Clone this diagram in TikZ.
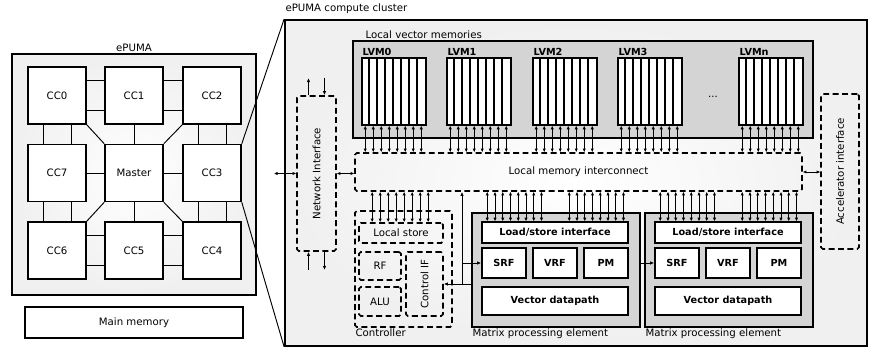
\documentclass[tikz,border=0pt]{standalone}
\usepackage{fontspec}
\setmainfont{DejaVu Sans}
\usepackage{tikz}
\usetikzlibrary{positioning, arrows.meta}

\newcommand{\lblfont}{\fontsize{8.7}{10}\selectfont}
\newcommand{\boldlbl}{\fontsize{8.3}{10}\selectfont\bfseries}

\tikzset{
  panel/.style 2 args={draw, line width=1.5pt, inner color=white, outer color=black!6,
    inner sep=0pt, minimum width=#1*0.03cm, minimum height=#2*0.03cm},
  box/.style 2 args={draw, line width=1.3pt, fill=white, inner sep=0pt,
    minimum width=#1*0.03cm, minimum height=#2*0.03cm},
  graybox/.style 2 args={draw, line width=1.3pt, fill=black!17, inner sep=0pt,
    minimum width=#1*0.03cm, minimum height=#2*0.03cm},
  dbox/.style 2 args={draw, line width=1.4pt, dash pattern=on 5pt off 3pt, rounded corners=1.5pt,
    inner sep=0pt, minimum width=#1*0.03cm, minimum height=#2*0.03cm},
  unit/.style 2 args={box={#1}{#2}, font=\boldlbl},
  lnk/.style={line width=0.8pt},
  bus/.style={line width=0.8pt, {Latex[length=3pt,width=2.8pt]}-{Latex[length=3pt,width=2.8pt]}},
  arr/.style={line width=0.8pt, -{Latex[length=3.5pt,width=3pt]}},
  lbl/.style={inner sep=1pt}
}

\begin{document}
\begin{tikzpicture}[x=0.03cm, y=-0.03cm, every node/.style={font=\lblfont}]
\useasboundingbox (0,0) rectangle (872,349);

% ePUMA chip
\node[panel={244}{241}] (chip) at (134,174.5) {};
\node[lbl, anchor=south] (chiplbl) at (chip.north) {ePUMA};

\foreach \n/\t/\x/\y in {cc0/CC0/57/95.5, cc1/CC1/134/95.5, cc2/CC2/212/95.5,
                         cc7/CC7/57/173, master/Master/134/173, cc3/CC3/212/173,
                         cc6/CC6/57/250.5, cc5/CC5/134/250.5, cc4/CC4/212/250.5}
  \node[box={58}{57}] (\n) at (\x,\y) {\t};

% ring links
\foreach \a/\b in {cc0/cc1, cc1/cc2, cc6/cc5, cc5/cc4} {
  \draw[lnk] ([yshift=4.5mm]\a.east) -- ([yshift=4.5mm]\b.west);
  \draw[lnk] ([yshift=-4.5mm]\a.east) -- ([yshift=-4.5mm]\b.west);
}
\foreach \a/\b in {cc0/cc7, cc7/cc6, cc2/cc3, cc3/cc4} {
  \draw[lnk] ([xshift=-4.2mm]\a.south) -- ([xshift=-4.2mm]\b.north);
  \draw[lnk] ([xshift=4.2mm]\a.south) -- ([xshift=4.2mm]\b.north);
}
% master links
\foreach \b in {cc1, cc7, cc3, cc5}
  \draw[lnk] (master) -- (\b);
\draw[lnk] (master.north west) -- (cc0.south east);
\draw[lnk] (master.north east) -- (cc2.south west);
\draw[lnk] (master.south east) -- (cc4.north west);
\draw[lnk] (master.south west) -- (cc6.north east);

\node[box={218}{31}] (mainmem) at (134,322.5) {Main memory};

% compute cluster
\node[panel={582}{326}] (cluster) at (576,183) {};
\node[lbl, anchor=south west, yshift=1.2mm] (clusterlbl) at (cluster.north west) {ePUMA compute cluster};
\draw[lnk] (cc3.north east) -- (cluster.north west);
\draw[lnk] (cc3.south east) -- (cluster.south west);

% local vector memories
\node[graybox={460}{97}] (lvmarea) at (583,89.5) {};
\node[lbl, anchor=south west, xshift=3.6mm] (lvmlbl) at (lvmarea.north west) {Local vector memories};

\node[dbox={447}{38}] (lmi) at (578.5,172) {Local memory interconnect};

\foreach \i/\t/\x in {0/LVM0/362, 1/LVM1/447, 2/LVM2/533, 3/LVM3/618, 4/LVMn/739} {
  \node[box={64}{67}] (lvm\i) at (\x+32,91.5) {};
  \node[lbl, anchor=south west, font=\boldlbl] (lvmlbl\i) at (lvm\i.north west) {\t};
  \foreach \k in {1,...,7}
    \draw[line width=1.3pt] ([xshift={8*\k*0.03cm}]lvm\i.north west) -- ([xshift={8*\k*0.03cm}]lvm\i.south west);
  \foreach \k in {0,...,7}
    \draw[bus] ([xshift={(4+8*\k)*0.03cm}]lvm\i.south west) -- ([xshift={(4+8*\k)*0.03cm}]lvm\i.south west |- lmi.north);
}
\node (dots) at (713,97) {...};

% network interface
\node[dbox={39}{155}] (ni) at (316.5,173.5) {};
\node[rotate=90] (nilbl) at (ni) {Network Interface};
\coordinate (niout) at (274,173.5);
\coordinate (nitop) at (316.5,78);
\coordinate (nibot) at (316.5,270);
\draw[bus] (niout) -- (ni.west);
\draw[bus] (ni.east) -- (ni.east -| lmi.west);
\draw[arr] ([xshift=-2.4mm]ni.north) -- ([xshift=-2.4mm]ni.north |- nitop);
\draw[arr] ([xshift=2.4mm]ni.north |- nitop) -- ([xshift=2.4mm]ni.north);
\draw[arr] ([xshift=-2.4mm]ni.south |- nibot) -- ([xshift=-2.4mm]ni.south);
\draw[arr] ([xshift=2.4mm]ni.south) -- ([xshift=2.4mm]ni.south |- nibot);

% accelerator interface
\node[dbox={38}{155}] (acc) at (840,171.5) {};
\node[rotate=90] (acclbl) at (acc) {Accelerator interface};
\draw[bus] (lmi.east) -- (lmi.east -| acc.west);

% controller
\node[dbox={97}{116}] (ctrl) at (403.5,269) {};
\node[lbl, anchor=north west] (ctrllbl) at (ctrl.south west) {Controller};
\node[dbox={84}{20}] (ls) at (401,233) {Local store};
\node[dbox={42}{28}] (rf) at (380,266) {RF};
\node[dbox={42}{29}] (alu) at (380,301.5) {ALU};
\node[dbox={37}{64}] (cif) at (424.5,284) {};
\node[rotate=90] (ciflbl) at (cif) {Control IF};
\foreach \k in {0,...,7}
  \draw[bus] ([xshift={(14+8*\k)*0.03cm}]ls.north west) -- ([xshift={(14+8*\k)*0.03cm}]ls.north west |- lmi.south);

% matrix processing elements
\foreach \j/\x in {1/556, 2/729} {
  \node[graybox={168}{114}] (mpe\j) at (\x,270) {};
  \node[lbl, anchor=north west] (mpelbl\j) at (mpe\j.south west) {Matrix processing element};
  \node[unit={146}{21}] (lsi\j) at (\x-1,232.5) {Load/store interface};
  \node[unit={44}{30}] (srf\j) at (\x-52,263) {SRF};
  \node[unit={44}{30}] (vrf\j) at (\x-1,263) {VRF};
  \node[unit={44}{30}] (pm\j) at (\x+50,263) {PM};
  \node[unit={146}{28}] (vdp\j) at (\x-1,301) {Vector datapath};
  \foreach \k in {0,...,7} {
    \draw[bus] ([xshift={(6+7.75*\k)*0.03cm}]lsi\j.north west) -- ([xshift={(6+7.75*\k)*0.03cm}]lsi\j.north west |- lmi.south);
    \draw[bus] ([xshift={(88+7.75*\k)*0.03cm}]lsi\j.north west) -- ([xshift={(88+7.75*\k)*0.03cm}]lsi\j.north west |- lmi.south);
  }
}
\draw[arr] (mpe1.east |- srf2.west) -- (srf2.west);

% control path
\coordinate (tap) at (462,284);
\draw[arr] (mpe1.west |- cif.east) -- (cif.east);
\draw[arr] (tap |- cif.east) -- (tap |- lmi.south);
\draw[arr] (tap |- srf1.west) -- (srf1.west);
\end{tikzpicture}
\end{document}
